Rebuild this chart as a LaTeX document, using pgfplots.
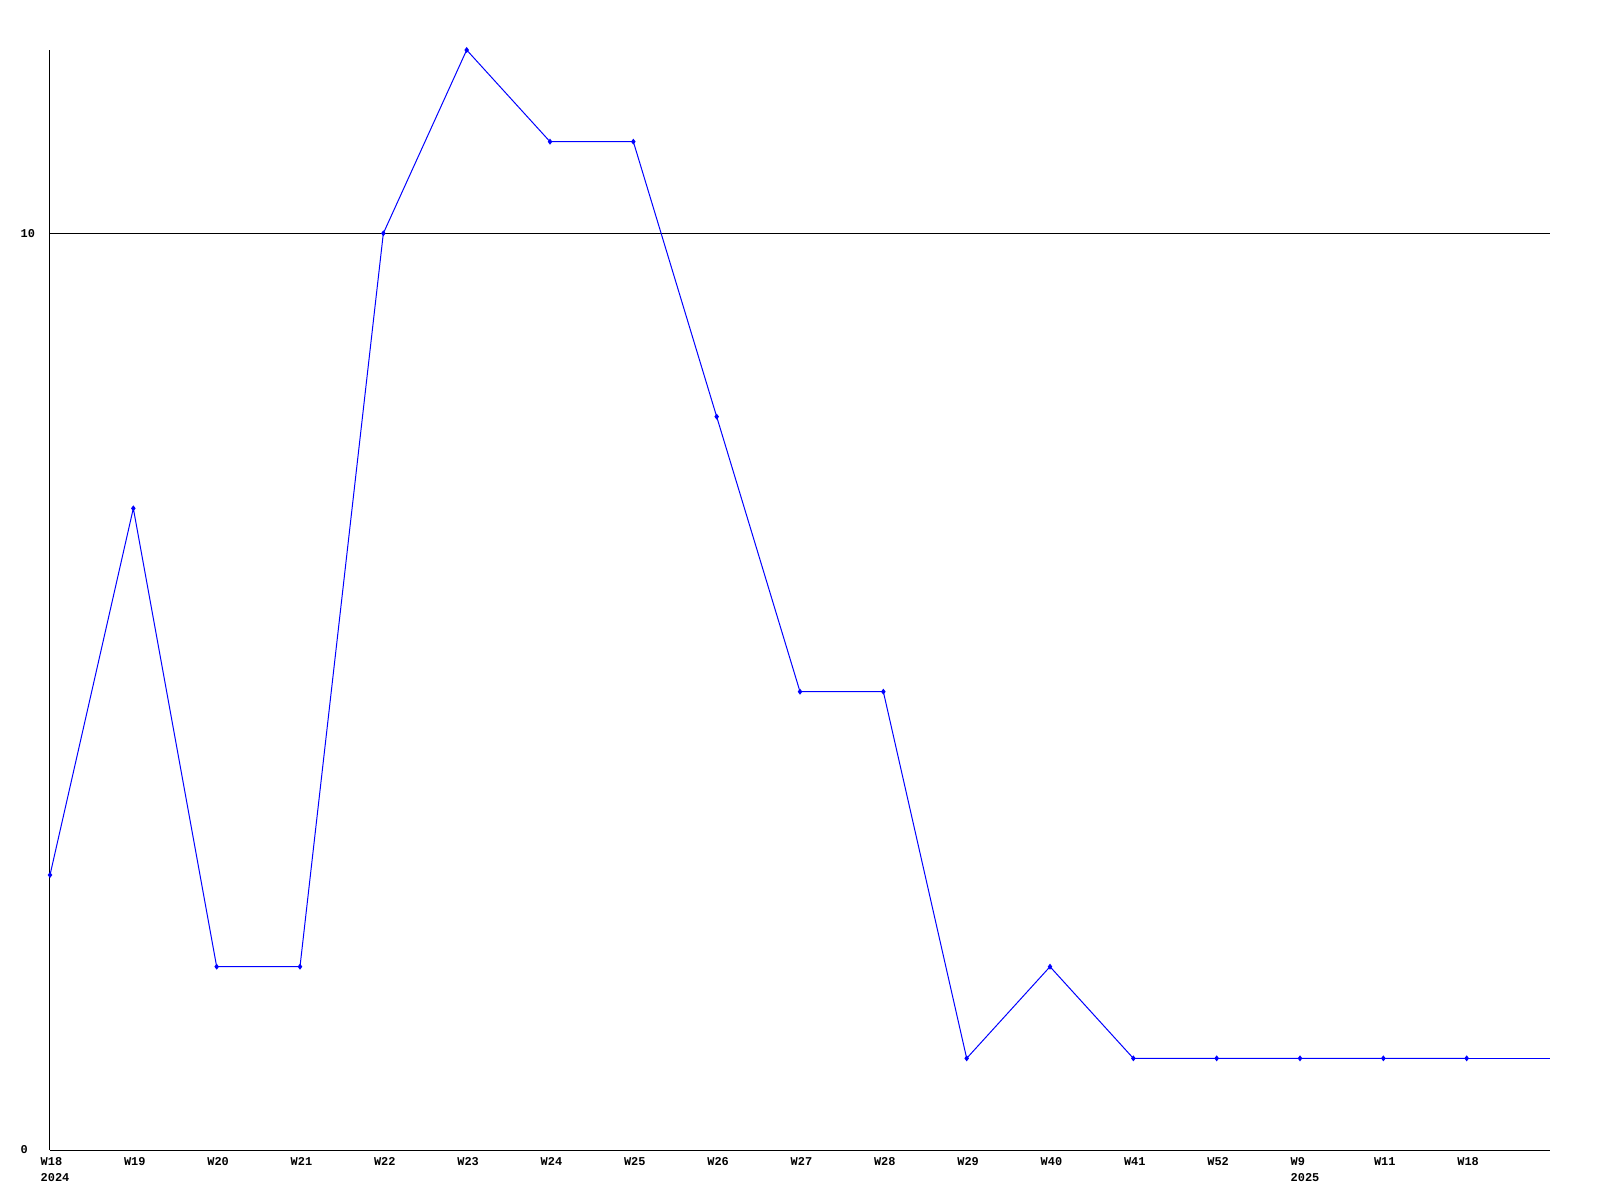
\documentclass[border=0pt]{standalone}
\usepackage{pgfplots}
\pgfplotsset{compat=1.18}
\usepackage{fontspec}
\setmainfont{Liberation Sans}
\newfontfamily\tickfont{Liberation Mono}[BoldFont=* Bold]
\begin{document}
\begin{tikzpicture}[x=1mm,y=1mm]
\useasboundingbox (-5,-5) rectangle (155,115);
\begin{axis}[
  at={(0,0)}, anchor=south west,
  scale only axis, width=150mm, height=110mm,
  xmin=0, xmax=18, ymin=0, ymax=12,
  clip=false,
  axis x line*=bottom, axis y line*=left,
  axis line style={-, black, line width=0.1mm},
  xtick={0,...,17},
  xticklabels={{W18\\2024},W19,W20,W21,W22,W23,W24,W25,W26,W27,W28,W29,W40,W41,W52,{W9\\2025},W11,W18},
  ytick={0,10}, yticklabels={0,10},
  major tick length=0pt,
  ymajorgrids, grid style={black, line width=0.1mm},
  xticklabel style={anchor=north west, align=left, inner sep=0pt, xshift=-1mm, yshift=-0.7mm, font=\tickfont\bfseries\fontsize{3.4}{4.5}\selectfont},
  yticklabel style={anchor=west, inner sep=0pt, xshift=-3mm, font=\tickfont\bfseries\fontsize{3.4}{4.5}\selectfont},
]
\addplot[color={rgb,255:red,0;green,0;blue,255}, line width=0.1mm, mark=diamond*, mark size=0.22mm, mark options={solid}] coordinates {
(0,3)(1,7)(2,2)(3,2)(4,10)(5,12)(6,11)(7,11)(8,8)(9,5)(10,5)(11,1)(12,2)(13,1)(14,1)(15,1)(16,1)(17,1)
};
\addplot[color={rgb,255:red,0;green,0;blue,255}, line width=0.1mm, no marks] coordinates {(17,1)(18,1)};
\end{axis}
\end{tikzpicture}
\end{document}
